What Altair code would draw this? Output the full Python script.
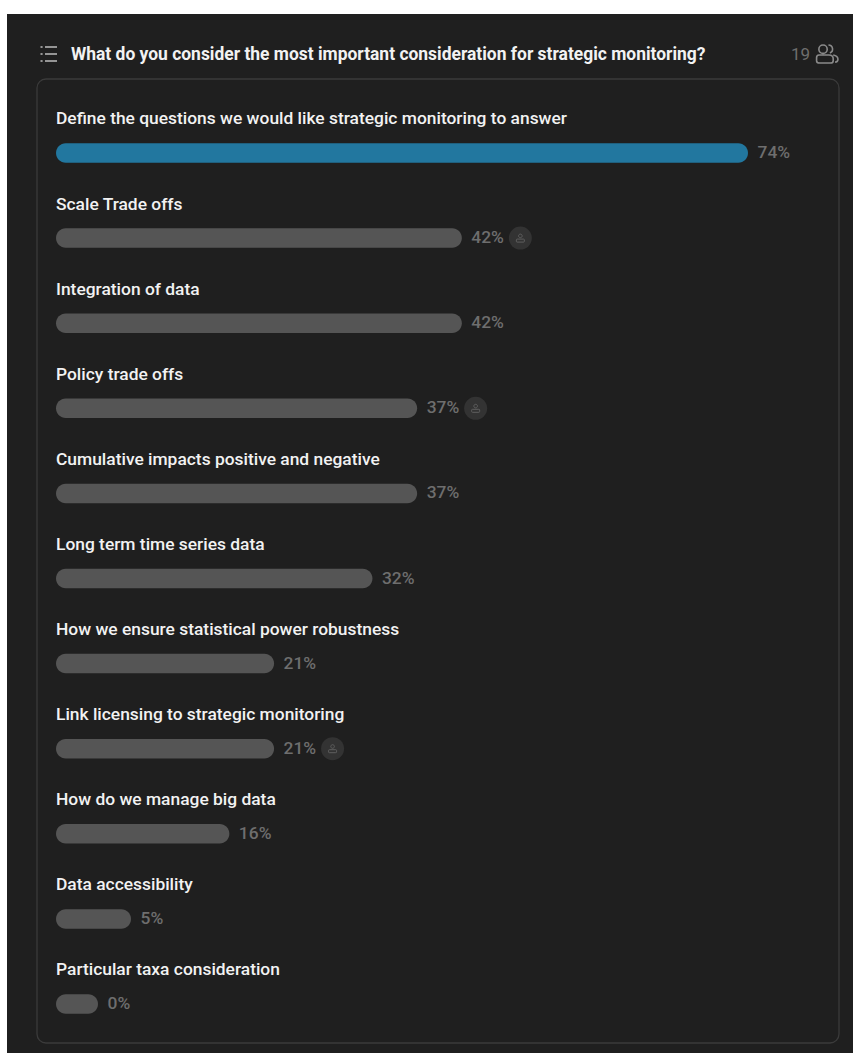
import altair as alt
import pandas as pd

categories = [
    "Define the questions we would like strategic monitoring to answer",
    "Scale Trade offs",
    "Integration of data",
    "Policy trade offs",
    "Cumulative impacts positive and negative",
    "Long term time series data",
    "How we ensure statistical power robustness",
    "Link licensing to strategic monitoring",
    "How do we manage big data",
    "Data accessibility",
    "Particular taxa consideration",
]
percent = [74, 42, 42, 37, 37, 32, 21, 21, 16, 5, 0]
has_badge = [False, True, False, True, False, False, False, True, False, False, False]
top_answer = [True] + [False] * 10

question = "What do you consider the most important consideration for strategic monitoring?"
respondents = "19"

BG = "#1f1f1f"
BORDER = "#3b3b3b"
BLUE = "#22779f"
GREY = "#555555"
TEXT = "#f2f2f2"
MUTED = "#6e6e6e"
FONT = "Roboto"

LIST_ICON = ("M-1 -1.28H1V-1.06H-1ZM-1 -0.11H1V0.11H-1ZM-1 1.06H1V1.28H-1Z"
             "M-1.75 -1.28H-1.4V-1.06H-1.75ZM-1.75 -0.11H-1.4V0.11H-1.75ZM-1.75 1.06H-1.4V1.28H-1.75Z")
PERSON_ICON = ("M0 -1A0.45 0.45 0 1 1 0 -0.1A0.45 0.45 0 1 1 0 -1Z"
               "M-0.8 0.25H0.8Q1 0.25 1 0.45V0.8Q1 1 0.8 1H-0.8Q-1 1 -1 0.8V0.45Q-1 0.25 -0.8 0.25Z")
GROUP_ICON = ("M-0.47 -0.95A0.44 0.44 0 1 1 -0.47 -0.07A0.44 0.44 0 1 1 -0.47 -0.95Z"
              "M-0.9 0.1H0.15Q0.6 0.1 0.6 0.5V0.7Q0.6 0.95 0.3 0.95H-0.8Q-1.15 0.95 -1.15 0.7V0.4Q-1.15 0.1 -0.9 0.1Z"
              "M0.1 -0.95A0.44 0.44 0 0 1 0.25 -0.1M0.6 0.1Q1.1 0.2 1.1 0.55Q1.1 0.85 0.8 0.85")

df = pd.DataFrame({
    "answer": categories,
    "percent": percent,
    "label": [f"{p}%" for p in percent],
    "badge": has_badge,
    "top": top_answer,
})

W, H = 846, 1039

x_scale = alt.Scale(domain=[0, 5, 74], range=[91, 124, 741])
y_scale = alt.Scale(type="point", domain=categories, range=[139, 990], padding=0)
x_enc = alt.X("percent:Q", scale=x_scale, axis=None)
y_enc = alt.Y("answer:N", scale=y_scale, axis=None, sort=categories)
base = alt.Chart(df)
one = alt.Chart(pd.DataFrame({"k": [0]}))

card = one.mark_rect(
    fill=BG, stroke=BORDER, strokeWidth=1.3, cornerRadius=9
).encode(x=alt.value(30), x2=alt.value(832), y=alt.value(65), y2=alt.value(1029))

bars = base.mark_rect(height=19.5, cornerRadius=9.75).encode(
    x=x_enc,
    x2=alt.value(49),
    y=y_enc,
    color=alt.Color("top:N", scale=alt.Scale(domain=[True, False], range=[BLUE, GREY]), legend=None),
)

answers = base.mark_text(
    align="left", baseline="middle", font=FONT, fontSize=17.4, fontWeight=500, color=TEXT, yOffset=-33.6
).encode(x=alt.value(49), y=y_enc, text="answer:N")

values = base.mark_text(
    align="left", baseline="middle", font=FONT, fontSize=17.4, fontWeight=500, color=MUTED, xOffset=9.5
).encode(x=x_enc, y=y_enc, text="label:N")

badged = base.transform_filter("datum.badge")
badge_disc = badged.mark_point(
    shape="circle", filled=True, size=530, color="#333333", opacity=1, xOffset=58.5
).encode(x=x_enc, y=y_enc)
badge_person = badged.mark_point(
    shape=PERSON_ICON, filled=False, size=64, color="#5f5f5f", strokeWidth=1, opacity=1, xOffset=58.5
).encode(x=x_enc, y=y_enc)

title = one.mark_text(
    align="left", baseline="middle", font=FONT, fontSize=17.46, fontWeight=700, color=TEXT
).encode(x=alt.value(64), y=alt.value(41), text=alt.value(question))
count = one.mark_text(
    align="left", baseline="middle", font=FONT, fontSize=17, color=MUTED
).encode(x=alt.value(784), y=alt.value(41), text=alt.value(respondents))
list_icon = one.mark_point(
    shape=LIST_ICON, filled=True, size=144, color="#bdbdbd", opacity=1
).encode(x=alt.value(44), y=alt.value(40))
group_icon = one.mark_point(
    shape=GROUP_ICON, filled=False, size=361, color="#8a8a8a", strokeWidth=1.6, opacity=1
).encode(x=alt.value(820.5), y=alt.value(40))

chart = (
    alt.layer(card, bars, answers, values, badge_disc, badge_person,
              title, count, list_icon, group_icon)
    .properties(width=W, height=H, background="#ffffff",
                padding={"left": 7, "top": 14, "right": 0, "bottom": 0},
                autosize=alt.AutoSizeParams(type="none"))
    .configure_view(fill=BG, stroke=None)
)

chart.save("out.html", embed_options={"renderer": "svg", "actions": False})
